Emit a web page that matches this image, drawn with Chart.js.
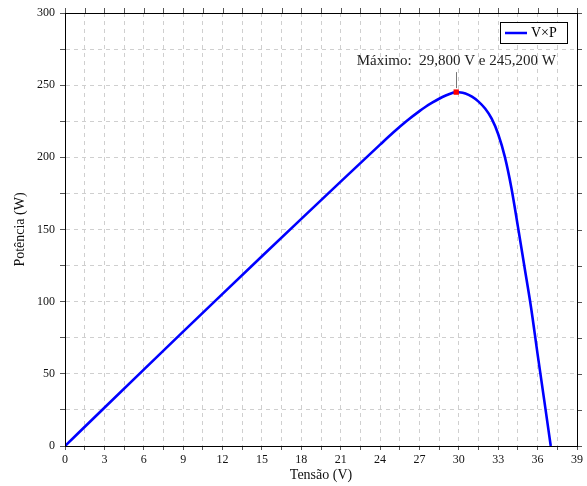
<!DOCTYPE html>
<html>
<head>
<meta charset="utf-8">
<script src="https://cdn.jsdelivr.net/npm/chart.js@4/dist/chart.umd.min.js"></script>
<style>
  html, body { margin: 0; padding: 0; background: #fff; }
  #wrap { width: 587px; height: 486px; }
</style>
</head>
<body>
<div id="wrap"><canvas id="curvaPV" width="587" height="486"></canvas></div>
<script>
// curva potência x tensão do painel
const tensao = [0, 3, 6, 9, 12, 15, 18, 21, 24, 25, 26, 27, 27.5, 28, 28.5, 29, 29.5, 29.8,
  30, 30.5, 31, 31.5, 32, 32.5, 33, 33.5, 34, 34.5, 35, 35.5, 36, 36.5, 37];
const potencia = [0, 26.5, 52.9, 79.2, 105.4, 131.5, 157.4, 183.2, 208.8, 217.2, 225.0, 232.0, 235.2, 238.0, 240.6, 242.8, 244.6, 245.2,
  245.1, 244.2, 242.0, 238.6, 233.8, 226.8, 216.0, 200.5, 179.0, 152.0, 124.0, 96.0, 63.5, 32.0, 0];
const vMax = 29.8;
const pMax = 245.2;

const serif = "'Liberation Serif', 'Times New Roman', serif";
const fmt = v => v.toFixed(3).replace(".", ",");

// ticks espelhados em cima e à direita + moldura
const moldura = {
  id: "moldura",
  afterDraw(chart) {
    const { ctx, chartArea: a, scales } = chart;
    ctx.save();
    ctx.strokeStyle = "#555";
    ctx.lineWidth = 1;
    ctx.beginPath();
    scales.x.ticks.forEach(t => {
      const px = Math.round(scales.x.getPixelForValue(t.value)) + 0.5;
      ctx.moveTo(px, a.top);
      ctx.lineTo(px, a.top - 5);
    });
    scales.y.ticks.forEach(t => {
      const py = Math.round(scales.y.getPixelForValue(t.value)) + 0.5;
      ctx.moveTo(a.right, py);
      ctx.lineTo(a.right + 5, py);
    });
    ctx.stroke();
    ctx.strokeStyle = "#000";
    ctx.strokeRect(Math.round(a.left) + 0.5, Math.round(a.top) + 0.5,
      Math.round(a.right - a.left), Math.round(a.bottom - a.top));
    ctx.restore();
  }
};

// legenda dentro da área do gráfico
const legendaPV = {
  id: "legendaPV",
  afterDraw(chart) {
    const { ctx, chartArea: a } = chart;
    const x0 = a.right - 77, y0 = a.top + 9, w = 67, h = 21;
    ctx.save();
    ctx.fillStyle = "#fff";
    ctx.fillRect(x0, y0, w, h);
    ctx.strokeStyle = "#000";
    ctx.lineWidth = 1;
    ctx.strokeRect(x0 + 0.5, y0 + 0.5, w, h);
    ctx.strokeStyle = "#0000ff";
    ctx.lineWidth = 2.5;
    ctx.beginPath();
    ctx.moveTo(x0 + 5, y0 + 11);
    ctx.lineTo(x0 + 27, y0 + 11);
    ctx.stroke();
    ctx.fillStyle = "#000";
    ctx.font = "14px " + serif;
    ctx.textBaseline = "middle";
    ctx.fillText(chart.data.datasets[0].label, x0 + 31, y0 + 11.5);
    ctx.restore();
  }
};

// rótulo do ponto de máxima potência
const rotuloMax = {
  id: "rotuloMax",
  afterDatasetsDraw(chart) {
    const { ctx, scales } = chart;
    const px = scales.x.getPixelForValue(vMax);
    const py = scales.y.getPixelForValue(pMax);
    ctx.save();
    ctx.strokeStyle = "#777";
    ctx.lineWidth = 1;
    ctx.beginPath();
    ctx.moveTo(Math.round(px) + 0.5, py - 4);
    ctx.lineTo(Math.round(px) + 0.5, py - 20);
    ctx.stroke();
    ctx.fillStyle = "#222";
    ctx.font = "15px " + serif;
    ctx.textAlign = "center";
    ctx.textBaseline = "alphabetic";
    ctx.fillText("Máximo:  " + fmt(vMax) + " V e " + fmt(pMax) + " W", px, py - 27);
    ctx.restore();
  }
};

const gradeCor = "#cfcfcf";

new Chart(document.getElementById("curvaPV"), {
  type: "line",
  data: {
    datasets: [
      {
        label: "V×P",
        data: tensao.map((v, i) => ({ x: v, y: potencia[i] })),
        borderColor: "#0000ff",
        borderWidth: 2.6,
        pointRadius: 0,
        cubicInterpolationMode: "monotone",
        fill: false,
        order: 2,
      },
      {
        label: "máximo",
        data: [{ x: vMax, y: pMax }],
        showLine: false,
        pointStyle: "rect",
        pointRadius: 3.8,
        backgroundColor: "#ff0000",
        borderColor: "#ff0000",
        borderWidth: 0,
        order: 1,
      },
    ],
  },
  options: {
    responsive: false,
    animation: false,
    layout: { padding: { top: 13, right: 10, left: 0, bottom: 0 } },
    plugins: {
      legend: { display: false },
      tooltip: { enabled: false },
    },
    scales: {
      x: {
        type: "linear",
        min: 0,
        max: 39,
        afterFit: s => { s.height = 40; },
        ticks: {
          stepSize: 1.5,
          autoSkip: false,
          maxRotation: 0,
          padding: 3,
          color: "#111",
          font: { family: serif, size: 12 },
          callback: v => (v % 3 === 0 ? v : ""),
        },
        grid: {
          color: gradeCor,
          lineWidth: 1,
          tickColor: "#555",
          tickLength: 4,
          tickBorderDash: [],
        },
        border: { color: "#000", dash: [4, 4] },
        title: {
          display: true,
          text: "Tensão (V)",
          color: "#111",
          font: { family: serif, size: 14 },
          padding: { top: 0, bottom: 2 },
        },
      },
      y: {
        min: 0,
        max: 300,
        afterFit: s => { s.width = 65; },
        ticks: {
          stepSize: 25,
          autoSkip: false,
          padding: 5,
          color: "#111",
          font: { family: serif, size: 12 },
          callback: v => (v % 50 === 0 ? v : ""),
        },
        grid: {
          color: gradeCor,
          lineWidth: 1,
          tickColor: "#555",
          tickLength: 5,
          tickBorderDash: [],
        },
        border: { color: "#000", dash: [4, 4] },
        title: {
          display: true,
          text: "Potência (W)",
          color: "#111",
          font: { family: serif, size: 14 },
          padding: { top: 12, bottom: 0 },
        },
      },
    },
  },
  plugins: [moldura, legendaPV, rotuloMax],
});
</script>
</body>
</html>
